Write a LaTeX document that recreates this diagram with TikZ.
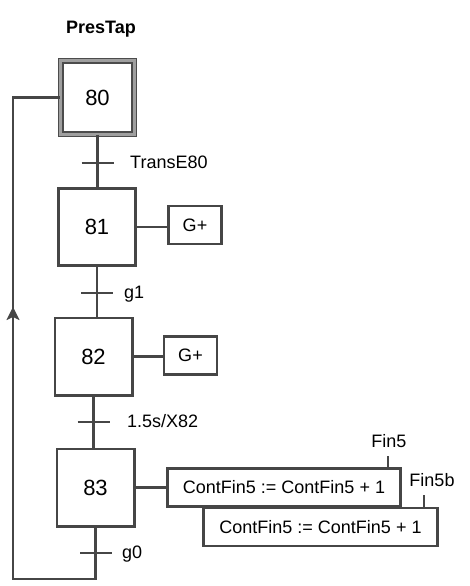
\documentclass[tikz,border=0pt]{standalone}
\usepackage{fontspec}
\setmainfont{Liberation Sans}
\usetikzlibrary{arrows.meta}
\definecolor{linegray}{RGB}{70,70,70}

\begin{document}
\begin{tikzpicture}[x=1pt, y=-1pt,
  every node/.style={font=\fontsize{18}{20}\selectfont},
  stepbox/.style={draw=linegray, line width=2.6pt, minimum size=77.4pt, inner sep=0pt, font=\fontsize{22}{24}\selectfont},
  initstep/.style={stepbox, draw=black!70, line width=1.3pt, double=gray!75, double distance=3pt, minimum size=73.4pt},
  actbox/.style={draw=linegray, line width=2.2pt, minimum height=38pt, inner sep=0pt},
  link/.style={draw=linegray, line width=2.2pt},
  trlabel/.style={anchor=base west, inner sep=0pt}]
  \useasboundingbox (0,0) rectangle (469,586);

  % steps
  \node[anchor=base, inner sep=0pt, font=\fontsize{18}{20}\selectfont\bfseries] (name) at (101,34) {PresTap};
  \node[initstep] (s80) at (97.5,97.5) {80};
  \node[stepbox] (s81) at (97,227) {81};
  \node[stepbox] (s82) at (93.5,356.5) {82};
  \node[stepbox] (s83) at (95.5,487.5) {83};

  % actions
  \node[actbox, minimum width=53pt] (a81) at (195,225) {G+};
  \node[actbox, minimum width=53pt] (a82) at (190.5,355.5) {G+};
  \node[actbox, minimum width=233pt] (a83) at (284,487.5) {ContFin5 := ContFin5 + 1};
  \node[actbox, minimum width=234pt] (a83b) at (320.5,527) {ContFin5 := ContFin5 + 1};
  \node[anchor=base, inner sep=0pt] (fin5) at (389,447) {Fin5};
  \node[anchor=base, inner sep=0pt] (fin5b) at (432,486) {Fin5b};

  \draw[link] (s81.east) -- (a81.west |- s81.east);
  \draw[link] (s82.east) -- (a82.west |- s82.east);
  \draw[link] (s83.east |- a83.west) -- (a83.west);
  \draw[link] (a83.north -| 388,0) -- ++(0,-11);
  \draw[link] (a83b.north -| 424,0) -- ++(0,-12);

  % links between steps
  \draw[link] (s80.south) -- (s80.south |- s81.north);
  \draw[link] (s81.south) -- (s81.south |- s82.north);
  \draw[link] (s82.south) -- (s82.south |- s83.north);

  % transitions
  \coordinate (t80) at (97.5,163);
  \coordinate (t81) at (97,293);
  \coordinate (t82) at (93.5,422);
  \coordinate (t83) at (96,553);
  \foreach \t in {t80,t81,t82,t83}
    \draw[link] ([xshift=-16pt]\t) -- ([xshift=16pt]\t);
  \node[trlabel] (l80) at (130,168) {TransE80};
  \node[trlabel] (l81) at (124,298) {g1};
  \node[trlabel] (l82) at (127,427) {1.5s/X82};
  \node[trlabel] (l83) at (122,558) {g0};

  % loop back
  \coordinate (lp1) at (13,579);
  \coordinate (lp2) at (13,97.5);
  \draw[link] (s83.south) |- (lp1) -- (lp2) -- (s80.west);
  \draw[link, -{Stealth[length=13pt, width=13pt, inset=3pt]}] (lp1) -- (13,307);
\end{tikzpicture}
\end{document}
